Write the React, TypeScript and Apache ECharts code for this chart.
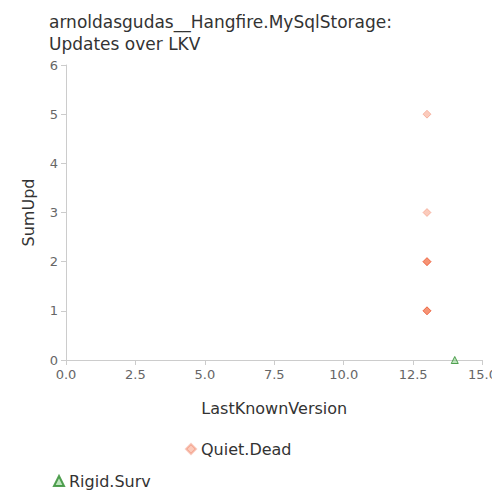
import React, { useEffect, useRef } from "react";
import * as echarts from "echarts";

const quietDead: number[][] = [[13, 5], [13, 3], [13, 2], [13, 2], [13, 2], [13, 1], [13, 1], [13, 1]];
const rigidSurv: number[][] = [[14, 0]];

export default function App() {
  const ref = useRef<HTMLDivElement>(null);
  useEffect(() => {
    const chart = echarts.init(ref.current!, null, { renderer: "svg" });
    const font = "DejaVu Sans";
    chart.setOption({
      animation: false,
      textStyle: { fontFamily: font },
      title: {
        text: "arnoldasgudas__Hangfire.MySqlStorage:\nUpdates over LKV",
        left: 36, top: -2,
        textStyle: { fontFamily: font, fontSize: 17, fontWeight: "normal", color: "#333", lineHeight: 22 },
      },
      grid: { left: 58, right: 14, top: 57, bottom: 140 },
      xAxis: {
        type: "value", min: 0, max: 15, interval: 2.5,
        name: "LastKnownVersion", nameLocation: "middle", nameGap: 40,
        nameTextStyle: { fontSize: 16, color: "#333", fontFamily: font },
        axisLabel: { color: "#666", fontSize: 13, formatter: (v: number) => v.toFixed(1) },
        axisLine: { lineStyle: { color: "#ccc" } }, axisTick: { show: true, lineStyle: { color: "#ccc" } },
        splitLine: { show: false },
      },
      yAxis: {
        type: "value", min: 0, max: 6, interval: 1,
        name: "SumUpd", nameLocation: "middle", nameGap: 30,
        nameTextStyle: { fontSize: 16, color: "#333", fontFamily: font },
        axisLabel: { color: "#666", fontSize: 13 },
        axisLine: { show: true, lineStyle: { color: "#ccc" } }, axisTick: { show: true, lineStyle: { color: "#ccc" } },
        splitLine: { show: false },
      },
      legend: [
        { data: ["Quiet.Dead"], left: 172, top: 428, itemWidth: 10, itemHeight: 10, itemGap: 4, textStyle: { fontSize: 16, color: "#333" } },
        { data: ["Rigid.Surv"], left: 40, top: 460, itemWidth: 10, itemHeight: 10, itemGap: 4, textStyle: { fontSize: 16, color: "#333" } },
      ],
      series: [
        {
          name: "Quiet.Dead", type: "scatter", symbol: "diamond", symbolSize: 8, data: quietDead,
          itemStyle: { color: "rgba(245,110,70,0.45)", borderColor: "rgba(230,70,30,0.35)", borderWidth: 1 },
        },
        {
          name: "Rigid.Surv", type: "scatter", symbol: "triangle", symbolSize: 7, data: rigidSurv,
          itemStyle: { color: "rgba(120,200,120,0.6)", borderColor: "#2a8a2a", borderWidth: 1 },
        },
      ],
    });
    return () => chart.dispose();
  }, []);
  return <div ref={ref} style={{ width: 492, height: 492 }} />;
}
